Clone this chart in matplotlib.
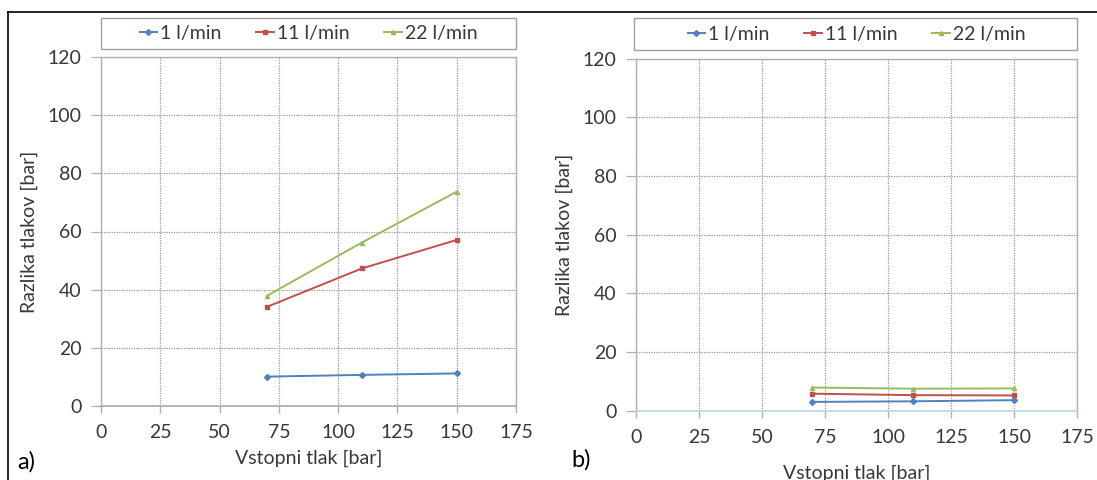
import matplotlib
matplotlib.use('Agg')
import matplotlib.pyplot as plt
from matplotlib.lines import Line2D
from matplotlib.patches import Rectangle

plt.rcParams['font.family'] = ['Lato', 'DejaVu Sans']

# podatki
vstopni_tlak = [70, 110, 150]
serije = ['1 l/min', '11 l/min', '22 l/min']

razlika_a_1 = [10.1, 10.7, 11.2]
razlika_a_11 = [34.1, 47.3, 57.1]
razlika_a_22 = [37.9, 56.2, 73.7]

razlika_b_1 = [3.0, 3.2, 3.6]
razlika_b_11 = [5.8, 5.3, 5.2]
razlika_b_22 = [7.9, 7.5, 7.6]

x_ticks = [0, 25, 50, 75, 100, 125, 150, 175]
y_ticks = [0, 20, 40, 60, 80, 100, 120]

barve = ['#4f81bd', '#c0504d', '#9bbb59']
markerji = ['D', 's', '^']
tekst = '#383838'


def narisi_panel(ax, vrednosti, crta_nic, lbl_y, xlbl_y, leg_y, leg_x0):
    for y, barva, m, ime in zip(vrednosti, barve, markerji, serije):
        ax.plot(vstopni_tlak, y, color=barva, marker=m, markersize=3,
                linewidth=1.4, label=ime, clip_on=False)

    ax.set_xlim(0, 175)
    ax.set_ylim(0, 120)
    ax.set_xticks(x_ticks)
    ax.set_yticks(y_ticks)

    # mreza
    ax.grid(True, color='#999999', linestyle=(0, (1, 1)), linewidth=0.9)
    ax.set_axisbelow(True)
    for s in ['top', 'right', 'left']:
        ax.spines[s].set_color('#b0b0b0')
        ax.spines[s].set_linewidth(1.0)
    ax.spines['bottom'].set_color(crta_nic)
    ax.spines['bottom'].set_linewidth(1.2)

    ax.tick_params(axis='x', direction='out', length=5, width=1,
                   color='#b0b0b0', pad=8, labelsize=14, labelcolor=tekst)
    ax.tick_params(axis='y', direction='out', length=7, width=0.9,
                   color='#b0b0b0', pad=7, labelsize=14, labelcolor=tekst)

    ax.set_xlabel('Vstopni tlak [bar]', fontsize=14, color=tekst, va='top')
    ax.set_ylabel('Razlika tlakov [bar]', fontsize=14, color=tekst)
    ax.yaxis.set_label_coords(lbl_y, 0.5)
    ax.xaxis.set_label_coords(0.5, xlbl_y)

    # okvir legende cez celo sirino grafa
    ax.add_patch(Rectangle((leg_x0, leg_y), 1 - leg_x0, 0.09,
                           transform=ax.transAxes, clip_on=False,
                           facecolor='white', edgecolor='#a0a0a0',
                           linewidth=1.0))
    rocaji = [Line2D([0], [0], color=b, marker=m, markersize=3, linewidth=1.4)
              for b, m in zip(barve, markerji)]
    ax.legend(rocaji, serije, loc='center', ncol=3,
              bbox_to_anchor=(0.5, leg_y + 0.045), fontsize=14,
              frameon=False, handlelength=0.9, handletextpad=0.15,
              columnspacing=1.8, borderaxespad=0, labelcolor=tekst)


fig = plt.figure(figsize=(10.97, 4.80), dpi=100)

ax_a = fig.add_axes([101 / 1097, 1 - 406 / 480, 415 / 1097, 349 / 480])
narisi_panel(ax_a, [razlika_a_1, razlika_a_11, razlika_a_22],
             '#a8a8a8', -0.152, -0.125, 1.023, 0.0)

ax_b = fig.add_axes([636 / 1097, 1 - 410.7 / 480, 441 / 1097, 352 / 480])
narisi_panel(ax_b, [razlika_b_1, razlika_b_11, razlika_b_22],
             '#bcd5ea', -0.143, -0.152, 1.025, -0.005)

# okvir slike
fig.add_artist(Line2D([8 / 1097, 1], [1 - 12 / 480, 1 - 12 / 480],
                      color='black', linewidth=1.2))
fig.add_artist(Line2D([8 / 1097, 8 / 1097], [0, 1 - 12 / 480],
                      color='black', linewidth=1.2))

fig.text(17 / 1097, 1 - 462 / 480, 'a)', fontsize=17, va='center', color='black')
fig.text(571 / 1097, 1 - 460 / 480, 'b)', fontsize=17, va='center', color='black')

fig.savefig('out.png', dpi=100)
